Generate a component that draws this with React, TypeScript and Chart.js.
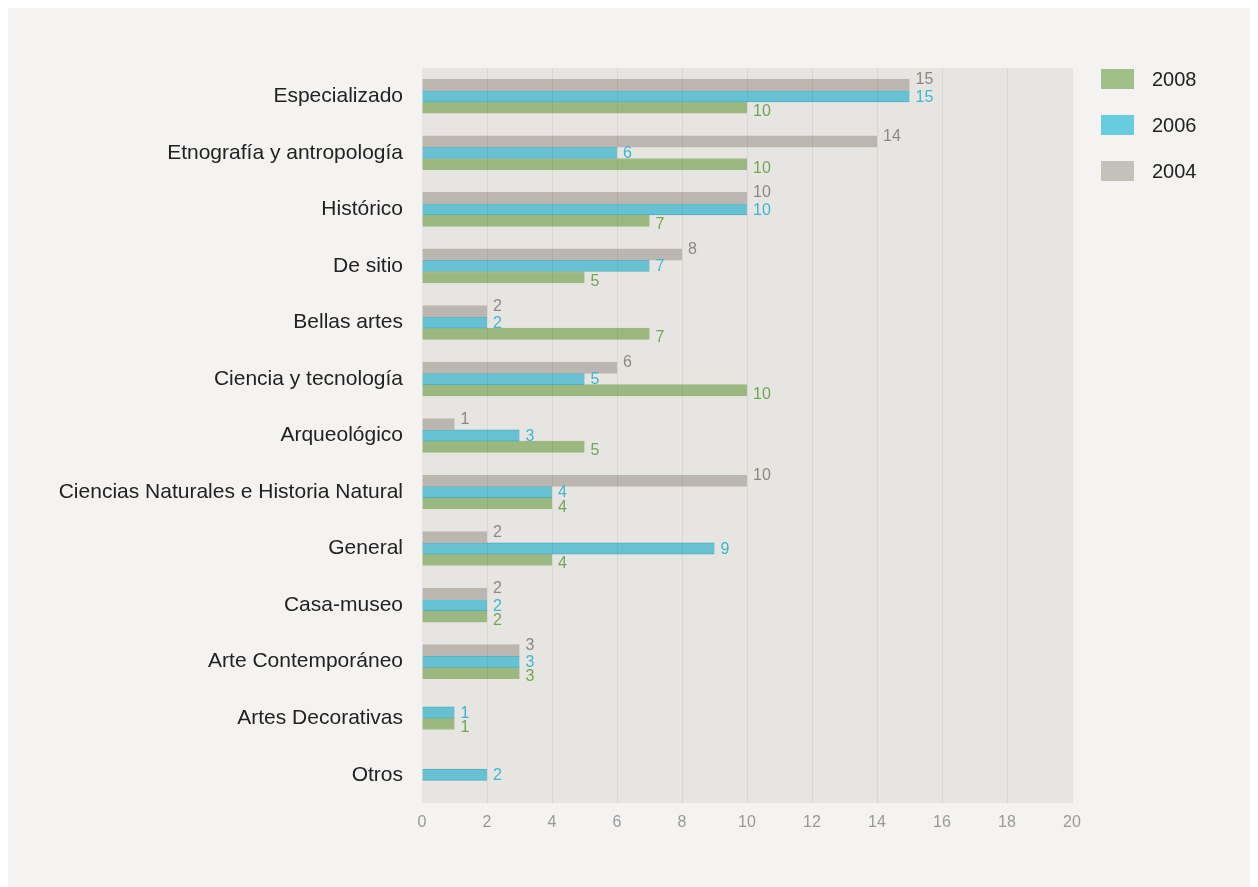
import React, { useEffect, useRef } from "react";
import { Chart, registerables } from "chart.js";

Chart.register(...registerables);

const categories = [
  "Especializado",
  "Etnografía y antropología",
  "Histórico",
  "De sitio",
  "Bellas artes",
  "Ciencia y tecnología",
  "Arqueológico",
  "Ciencias Naturales e Historia Natural",
  "General",
  "Casa-museo",
  "Arte Contemporáneo",
  "Artes Decorativas",
  "Otros",
];

const values2004 = [15, 14, 10, 8, 2, 6, 1, 10, 2, 2, 3, null, null];
const values2006 = [15, 6, 10, 7, 2, 5, 3, 4, 9, 2, 3, 1, 2];
const values2008 = [10, 10, 7, 5, 7, 10, 5, 4, 4, 2, 3, 1, null];

const xTicks = [0, 2, 4, 6, 8, 10, 12, 14, 16, 18, 20];

const series = [
  { label: "2004", data: values2004, bar: "#bbb6af", edge: "#bbb6af", legend: "#c4c0ba", text: "#8c8781", dy: -5 },
  { label: "2006", data: values2006, bar: "#66c2d3", edge: "#52adbf", legend: "#68ccdf", text: "#3db7d0", dy: 1 },
  { label: "2008", data: values2008, bar: "#9bb880", edge: "#9bb880", legend: "#a0c088", text: "#6fa756", dy: 4 },
];

const FONT = "'Liberation Sans', Arial, Helvetica, sans-serif";

const plotBg = {
  id: "plotBg",
  beforeDraw(chart: any) {
    const { ctx, chartArea } = chart;
    ctx.save();
    ctx.fillStyle = "#f4f3f1";
    ctx.fillRect(0, 0, chart.width, chart.height);
    ctx.fillStyle = "#e7e5e1";
    ctx.fillRect(chartArea.left, chartArea.top, chartArea.right - chartArea.left, chartArea.bottom - chartArea.top);
    ctx.restore();
  },
};

const valueLabels = {
  id: "valueLabels",
  afterDraw(chart: any) {
    const { ctx } = chart;
    ctx.save();
    ctx.font = `16px ${FONT}`;
    ctx.textBaseline = "middle";
    ctx.textAlign = "left";
    chart.data.datasets.forEach((ds: any, di: number) => {
      const meta = chart.getDatasetMeta(di);
      const s = series[di];
      meta.data.forEach((el: any, i: number) => {
        const v = ds.data[i];
        if (v === null || v === undefined) return;
        ctx.fillStyle = s.text;
        ctx.fillText(String(v), el.x + 6, el.y + s.dy);
      });
    });
    ctx.restore();
  },
};

const customLegend = {
  id: "customLegend",
  afterDraw(chart: any) {
    const { ctx } = chart;
    ctx.save();
    ctx.font = `20px ${FONT}`;
    ctx.textBaseline = "middle";
    ctx.textAlign = "left";
    const order = [2, 1, 0];
    order.forEach((si, row) => {
      const s = series[si];
      const y = 61 + row * 46;
      ctx.fillStyle = s.legend;
      ctx.fillRect(1093, y, 33, 20);
      ctx.fillStyle = "#222222";
      ctx.fillText(s.label, 1144, y + 11);
    });
    ctx.restore();
  },
};

export default function App() {
  const ref = useRef<HTMLCanvasElement>(null);

  useEffect(() => {
    if (!ref.current) return;
    const chart = new Chart(ref.current, {
      type: "bar",
      data: {
        labels: categories,
        datasets: series.map((s) => ({
          label: s.label,
          data: s.data as any,
          backgroundColor: s.bar,
          borderColor: s.edge,
          borderWidth: { top: 1, bottom: 1, left: 0, right: 0 },
          borderSkipped: false,
          barThickness: 11.3,
          skipNull: true,
        })),
      },
      options: {
        indexAxis: "y",
        animation: false,
        responsive: false,
        maintainAspectRatio: false,
        layout: { padding: { left: 0, top: 60, right: 186, bottom: 0 } },
        plugins: {
          legend: { display: false },
          tooltip: { enabled: false },
        },
        scales: {
          x: {
            min: 0,
            max: 20,
            afterBuildTicks: (scale: any) => {
              scale.ticks = xTicks.map((v) => ({ value: v }));
            },
            afterFit: (scale: any) => {
              scale.height = 84;
            },
            grid: {
              color: (c: any) => (c.tick && c.tick.value === 0 ? "rgba(0,0,0,0)" : "rgba(60,45,30,0.08)"),
              lineWidth: 1,
              drawTicks: false,
              z: 1,
            },
            border: { display: false },
            ticks: {
              color: "#999999",
              font: { family: FONT, size: 16 },
              padding: 10,
            },
          },
          y: {
            afterFit: (scale: any) => {
              scale.width = 414;
            },
            grid: { display: false, drawTicks: false },
            border: { display: false },
            ticks: {
              color: "#222222",
              font: { family: FONT, size: 21 },
              padding: 19,
              autoSkip: false,
            },
          },
        },
      } as any,
      plugins: [plotBg, valueLabels, customLegend],
    });
    return () => chart.destroy();
  }, []);

  return (
    <div style={{ width: 1250, height: 879 }}>
      <canvas ref={ref} width={1250} height={879} style={{ display: "block" }} />
    </div>
  );
}
